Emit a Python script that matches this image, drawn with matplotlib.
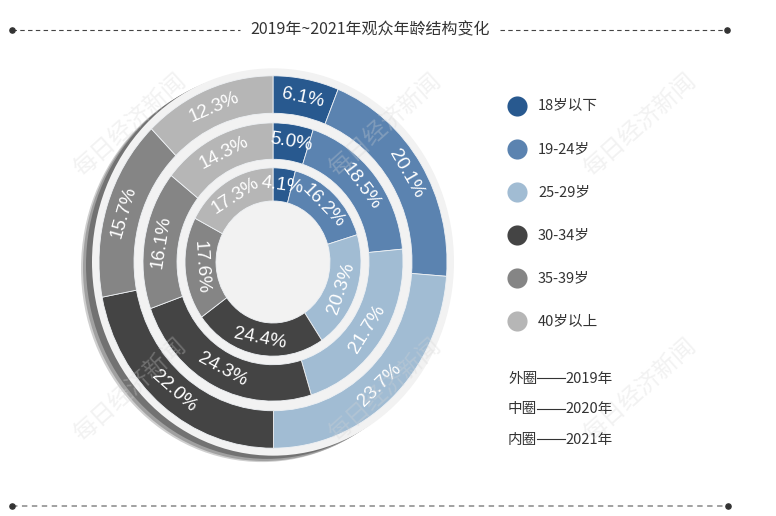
import numpy as np
import matplotlib.pyplot as plt
from matplotlib.patches import Circle

categories = ['18岁以下', '19-24岁', '25-29岁', '30-34岁', '35-39岁', '40岁以上']
share_2019 = [6.1, 20.1, 23.7, 22.0, 15.7, 12.3]
share_2020 = [5.0, 18.5, 21.7, 24.3, 16.1, 14.3]
share_2021 = [4.1, 16.2, 20.3, 24.4, 17.6, 17.3]
ring_notes = ['外圈', '中圈', '内圈']
ring_years = ['2019年', '2020年', '2021年']
title = '2019年~2021年观众年龄结构变化'
watermark = '每日经济新闻'

colors = ['#28598f', '#5b83b0', '#a1bcd3', '#444444', '#858585', '#b6b6b6']
plt.rcParams['font.family'] = ['Noto Sans CJK SC', 'DejaVu Sans']

W, H = 776, 516
fig = plt.figure(figsize=(W / 100, H / 100), dpi=100)

# donut axes: 1 unit = 1 px across, a bit stretched vertically (tilted disc look)
cx, cy, sy = 273, 262, 1.07
ax = fig.add_axes([0, 0, 1, 1])

# shadow on the lower left, then the light backing disc
for dx, dy, c in [(-11, -6, '#cfcfcf'), (-9, -5, '#a0a0a0'), (-6, -3, '#727272')]:
    ax.add_patch(Circle((dx, dy), 181, color=c, lw=0))
ax.add_patch(Circle((0, 0), 181, color='#f2f2f2', lw=0))

rings = [(share_2019, 174, 35), (share_2020, 130, 34), (share_2021, 88, 31)]
for vals, r, w in rings:
    wedges, _ = ax.pie(vals, radius=r, startangle=90, counterclock=False, colors=colors,
                       wedgeprops=dict(width=w, edgecolor='#eef1f4', linewidth=0.6))
    for wd, v in zip(wedges, vals):
        t = np.radians((wd.theta1 + wd.theta2) / 2)
        rm = r - w / 2
        rot = np.degrees(np.arctan2(sy * np.cos(t), -np.sin(t)))
        if rot > 90:
            rot -= 180
        elif rot <= -90:
            rot += 180
        ax.text(rm * np.cos(t), rm * np.sin(t), f'{v:.1f}%', color='white',
                fontsize=13.5, family='Liberation Sans', ha='center', va='center',
                rotation=rot, rotation_mode='anchor')

ax.set_aspect('auto')
ax.set_xlim(-cx, W - cx)
ax.set_ylim(-(H - cy) / sy, cy / sy)
ax.axis('off')

# overlay in pixel coords for title, legend, lines
ov = fig.add_axes([0, 0, 1, 1], facecolor='none')
ov.set_xlim(0, W)
ov.set_ylim(H, 0)
ov.axis('off')

ov.text(370, 30, title, ha='center', va='center', fontsize=11.5, color='#333333')
ov.plot([12, 240], [30, 30], color='#444444', lw=0.8, ls=(0, (4, 3)))
ov.plot([500, 727], [30, 30], color='#444444', lw=0.8, ls=(0, (4, 3)))
ov.scatter([12, 727], [30, 30], s=14, color='#333333', zorder=3)

ov.plot([12, 728], [506, 506], color='#9a9a9a', lw=1.3, ls=(0, (3, 2.5)))
ov.scatter([12, 728], [506, 506], s=14, color='#333333', zorder=3)

for i, (cat, c) in enumerate(zip(categories, colors)):
    y = 106 + 43 * i
    ov.scatter(517, y, s=210, color=c, lw=0)
    ov.text(538, y, cat, fontsize=10.5, va='center', color='#333333')

# ring notes: name, a solid rule, year
for i, (note, yr) in enumerate(zip(ring_notes, ring_years)):
    y = 379 + 30.5 * i
    ov.text(508, y, note, fontsize=10.5, va='center', color='#333333')
    ov.plot([537, 565], [y - 1, y - 1], color='#333333', lw=0.8)
    ov.text(565, y, yr, fontsize=10.5, va='center', color='#333333')

for x in [130, 385, 640]:
    for y in [125, 390]:
        ov.text(x, y, watermark, rotation=42, fontsize=17, color='#d4d4d4', alpha=0.3,
                ha='center', va='center')

fig.savefig('out.png', dpi=100)
